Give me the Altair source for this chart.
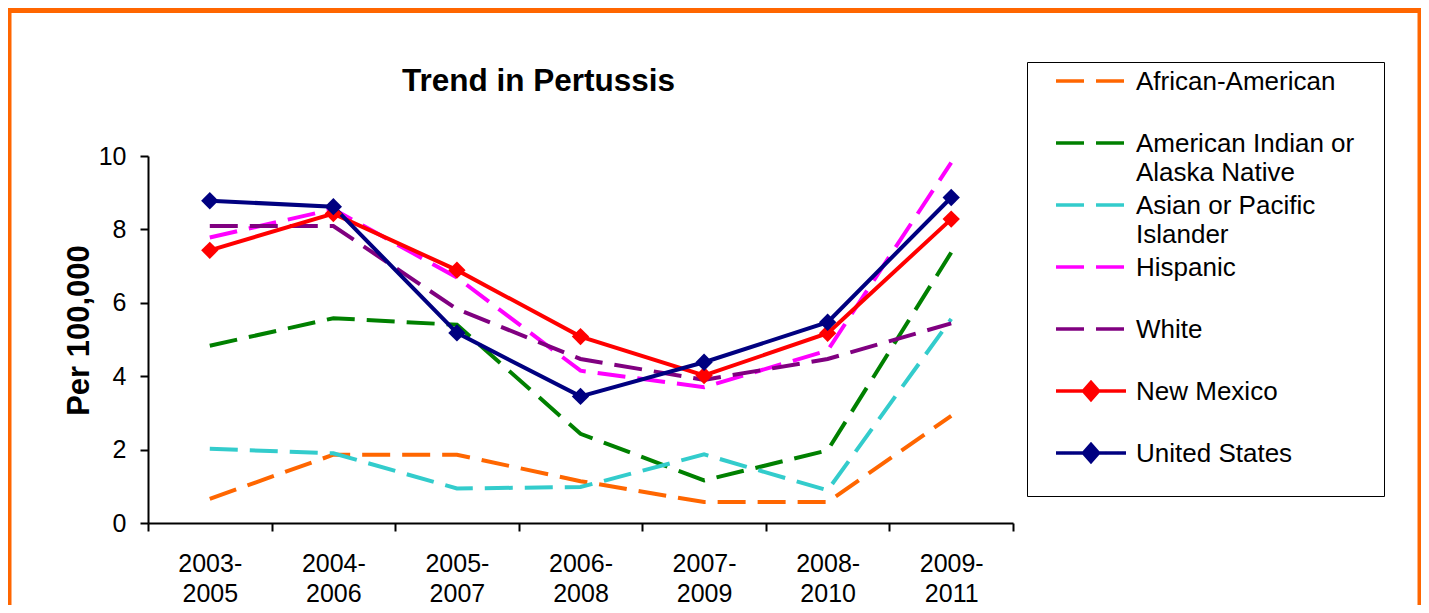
import altair as alt
import pandas as pd

FONT = "Liberation Sans"

periods = ["2003-2005", "2004-2006", "2005-2007", "2006-2008", "2007-2009", "2008-2010", "2009-2011"]
series_names = [
    "African-American",
    "American Indian or Alaska Native",
    "Asian or Pacific Islander",
    "Hispanic",
    "White",
    "New Mexico",
    "United States",
]
african_american = [0.66, 1.86, 1.86, 1.14, 0.57, 0.57, 2.92]
american_indian = [4.83, 5.58, 5.40, 2.43, 1.16, 1.98, 7.37]
asian_pacific = [2.02, 1.90, 0.94, 0.98, 1.87, 0.89, 5.56]
hispanic = [7.78, 8.55, 6.69, 4.15, 3.70, 4.70, 9.82]
white = [8.09, 8.09, 5.83, 4.47, 3.90, 4.47, 5.44]
new_mexico = [7.43, 8.43, 6.89, 5.08, 4.02, 5.17, 8.28]
united_states = [8.78, 8.62, 5.18, 3.45, 4.38, 5.47, 8.87]

colors = ["#FF6600", "#008000", "#33CCCC", "#FF00FF", "#800080", "#FF0000", "#000080"]
dashed_series = series_names[:5]
solid_series = series_names[5:]

all_values = [african_american, american_indian, asian_pacific, hispanic, white, new_mexico, united_states]
rows = []
for name, vals in zip(series_names, all_values):
    for p, v in zip(periods, vals):
        rows.append({"period": p, "series": name, "value": v})
df = pd.DataFrame(rows)

x_enc = alt.X(
    "period:O",
    sort=periods,
    bandPosition=0.5,
    scale=alt.Scale(type="band", paddingInner=0, paddingOuter=0),
    axis=alt.Axis(
        title=None, tickBand="extent", labelAngle=0,
        labelExpr="[slice(datum.label, 0, 5), slice(datum.label, 5)]",
        labelFont=FONT, labelFontSize=25, labelColor="black", labelLineHeight=30,
        labelPadding=20, labelBaseline="top",
        tickSize=8, tickWidth=2, tickColor="black",
        domainWidth=2, domainColor="black", grid=False,
    ),
)
y_enc = alt.Y(
    "value:Q",
    scale=alt.Scale(domain=[0, 10], nice=False, zero=True),
    axis=alt.Axis(
        values=[0, 2, 4, 6, 8, 10], grid=False,
        title="Per 100,000", titleFont=FONT, titleFontSize=31, titleFontWeight="bold",
        titleColor="black", titleX=-69, titleY=174, titleBaseline="middle", titleAlign="center",
        labelFont=FONT, labelFontSize=25, labelColor="black", labelPadding=14,
        tickSize=8, tickWidth=2, tickColor="black",
        domainWidth=2, domainColor="black",
    ),
)

color_scale = alt.Scale(domain=series_names, range=colors)

base = alt.Chart(df)

dashed_lines = base.transform_filter(
    alt.FieldOneOfPredicate(field="series", oneOf=dashed_series)
).mark_line(strokeWidth=4, strokeDash=[28, 12]).encode(
    x=x_enc, y=y_enc,
    color=alt.Color("series:N", scale=color_scale, legend=None),
)

solid_lines = base.transform_filter(
    alt.FieldOneOfPredicate(field="series", oneOf=solid_series)
).mark_line(strokeWidth=4).encode(
    x=x_enc, y=y_enc,
    color=alt.Color("series:N", scale=color_scale, legend=None),
)

diamonds = base.transform_filter(
    alt.FieldOneOfPredicate(field="series", oneOf=solid_series)
).mark_point(filled=True, shape="diamond", size=300, opacity=1).encode(
    x=x_enc, y=y_enc,
    color=alt.Color("series:N", scale=color_scale, legend=None),
)

line_path = "M-1.346,-0.346H1.346"
diamond_path = "M-1.346,-0.346H1.346M-0.288,-0.346L0,-0.673L0.288,-0.346L0,-0.019Z"
shape_range = [line_path] * 5 + [diamond_path] * 2
dash_range = [[28, 12]] * 5 + [[1, 0]] * 2

pad = "\u00a0" * 4 + "\u200b"
legend_def = alt.Legend(
    title=None, orient="none", legendX=879, legendY=-94, direction="vertical",
    labelExpr=(
        "datum.label == 'American Indian or Alaska Native' ? ['American Indian or" + pad + "', 'Alaska Native'] : "
        "datum.label == 'Asian or Pacific Islander' ? ['Asian or Pacific', 'Islander'] : [datum.label, '']"
    ),
    labelFont=FONT, labelFontSize=26, labelColor="black", labelBaseline="alphabetic",
    labelLimit=500, labelOffset=17, symbolOffset=36, symbolSize=2704, symbolStrokeWidth=3.5,
    rowPadding=0, padding=0, strokeColor="black", fillColor="white",
)

legend_layer = base.transform_filter("false").mark_point(filled=True, opacity=1).encode(
    x=x_enc, y=y_enc,
    fill=alt.Fill("series:N", scale=alt.Scale(domain=series_names, range=colors), legend=legend_def),
    stroke=alt.Stroke("series:N", scale=alt.Scale(domain=series_names, range=colors), legend=legend_def),
    shape=alt.Shape("series:N", scale=alt.Scale(domain=series_names, range=shape_range), legend=legend_def),
    strokeDash=alt.StrokeDash("series:N", scale=alt.Scale(domain=series_names, range=dash_range), legend=legend_def),
)

frame_data = alt.Data(values=[{"k": 0}])
frame_top = alt.Chart(frame_data).mark_rule(color="#FF6600", strokeWidth=5).encode(
    x=alt.value(-140), x2=alt.value(1273), y=alt.value(-145.5)
)
frame_left = alt.Chart(frame_data).mark_rule(color="#FF6600", strokeWidth=3.5).encode(
    x=alt.value(-138.25), y=alt.value(-148), y2=alt.value(449)
)
frame_right = alt.Chart(frame_data).mark_rule(color="#FF6600", strokeWidth=3.5).encode(
    x=alt.value(1271.25), y=alt.value(-148), y2=alt.value(449)
)

chart = alt.layer(
    legend_layer, dashed_lines, solid_lines, diamonds, frame_top, frame_left, frame_right
).properties(
    width=865, height=367,
    autosize=alt.AutoSizeParams(type="none"),
    padding={"left": 140, "top": 148, "right": 408, "bottom": 82},
    title=alt.TitleParams(
        "Trend in Pertussis", font=FONT, fontSize=31.5, fontWeight="bold", color="black",
        anchor="middle", dx=-42, offset=0, dy=116, baseline="alphabetic",
    ),
).configure(style={"guide-label": {"lineHeight": 28.7}}).configure_view(stroke="transparent")

chart.save("out.html", embed_options={"renderer": "svg", "actions": False})
